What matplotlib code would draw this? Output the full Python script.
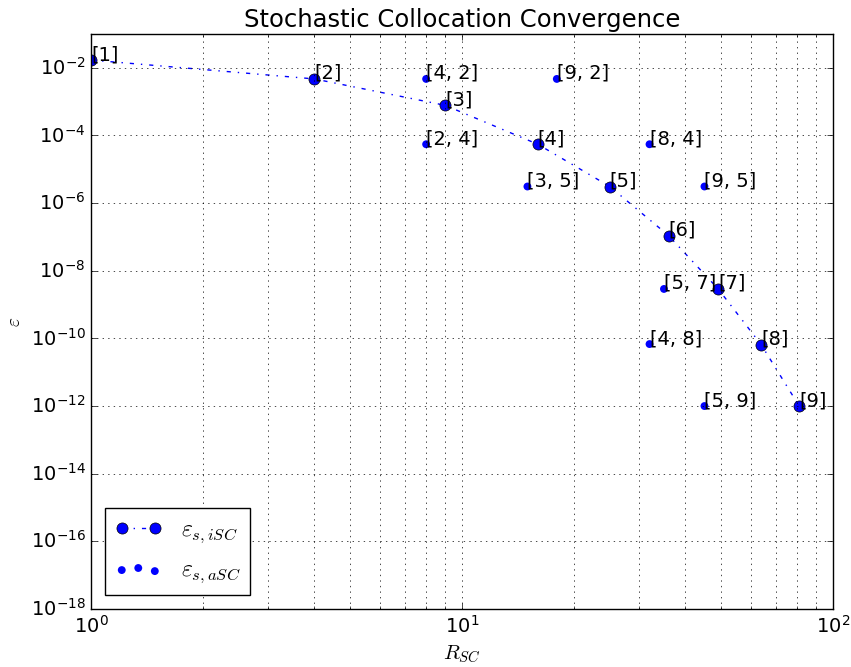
import numpy as np
import matplotlib
matplotlib.use("Agg")
import matplotlib.pyplot as plt
from matplotlib.ticker import LogLocator, NullLocator

plt.style.use("classic")

# isotropic stochastic collocation: level -> (nodes, error)
isc_labels = ["[1]", "[2]", "[3]", "[4]", "[5]", "[6]", "[7]", "[8]", "[9]"]
isc_nodes = [1, 4, 9, 16, 25, 36, 49, 64, 81]
isc_err = [1.7e-2, 4.7e-3, 7.8e-4, 5.5e-5, 3.1e-6, 1.1e-7, 2.9e-9, 6.5e-11, 1.0e-12]

# anisotropic stochastic collocation
asc_labels = ["[4, 2]", "[9, 2]", "[2, 4]", "[8, 4]", "[3, 5]", "[9, 5]",
              "[5, 7]", "[4, 8]", "[5, 9]"]
asc_nodes = [8, 18, 8, 32, 15, 45, 35, 32, 45]
asc_err = [4.7e-3, 4.7e-3, 5.5e-5, 5.5e-5, 3.1e-6, 3.1e-6, 2.9e-9, 6.8e-11, 1.0e-12]

fig = plt.figure(figsize=(8.51, 6.67), dpi=100)
ax = fig.add_subplot(111)
fig.subplots_adjust(left=0.107, right=0.979, top=0.949, bottom=0.087)

ax.loglog(isc_nodes, isc_err, "b-.o", markersize=8, markeredgecolor="k",
          label=r"$\varepsilon_{s,iSC}$")
ax.scatter(asc_nodes, asc_err, s=32, c="b", edgecolors="none",
           label=r"$\varepsilon_{s,aSC}$")

for x, y, t in zip(isc_nodes, isc_err, isc_labels):
    ax.text(x, y, t, fontsize=14)
for x, y, t in zip(asc_nodes, asc_err, asc_labels):
    ax.text(x, y, t, fontsize=14)

ax.set_xlim(1, 100)
ax.set_ylim(1e-18, 1e-1)
ax.set_yticks(10.0 ** np.arange(-18, -1, 2))
ax.yaxis.set_minor_locator(NullLocator())
ax.xaxis.set_minor_locator(LogLocator(subs=np.arange(2, 10)))
ax.tick_params(labelsize=14)
ax.grid(True, which="major", axis="both", color="k", linestyle=":")
ax.grid(True, which="minor", axis="x", color="k", linestyle=":")

ax.set_title("Stochastic Collocation Convergence", fontsize=17.5)
ax.set_xlabel(r"$R_{SC}$", fontsize=15)
ax.set_ylabel(r"$\varepsilon$", fontsize=14)
ax.legend(loc="lower left", numpoints=2, scatterpoints=3, fontsize=17,
          borderaxespad=0.6)

fig.savefig("out.png", dpi=100)
